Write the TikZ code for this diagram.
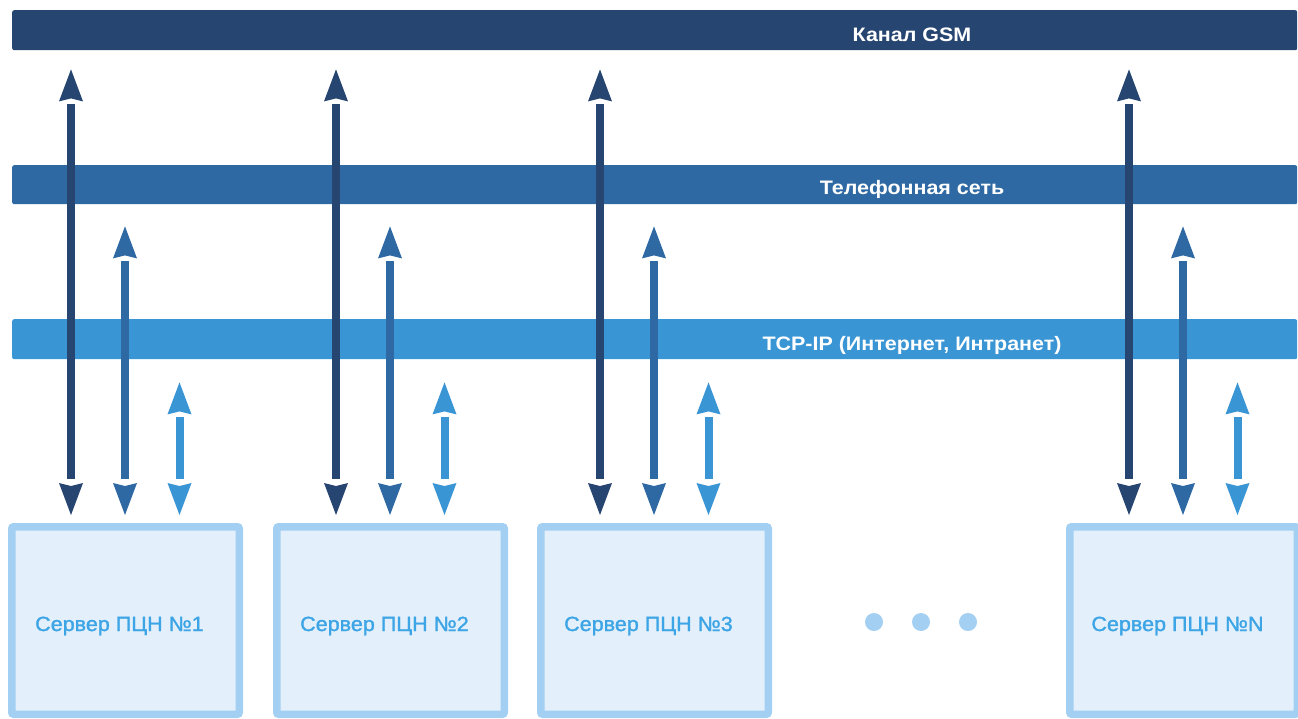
\documentclass[tikz,border=0pt]{standalone}
\usepackage{fontspec}
\setmainfont{Liberation Sans}
\newfontfamily\barfont[FakeStretch=1.1]{Liberation Sans}
\newfontfamily\srvfont[FakeStretch=1.05,FakeBold=1.5]{Liberation Sans}
\usetikzlibrary{arrows.meta,calc}

\definecolor{gsmblue}{HTML}{274571}
\definecolor{telblue}{HTML}{2F69A3}
\definecolor{tcpblue}{HTML}{3A95D5}
\definecolor{boxline}{HTML}{A3CFF2}
\definecolor{boxfill}{HTML}{E3F0FB}
\definecolor{srvtext}{HTML}{3DA5E5}

\begin{document}
\begin{tikzpicture}[x=1pt,y=-1pt,
  >={Stealth[length=32pt,width=24pt,inset=3pt,line width=0pt]},
  bar/.style={draw=none,fill=#1,rounded corners=2pt,minimum width=1285pt,
    minimum height=40pt,inner sep=0pt,anchor=north west},
  barlabel/.style={text=white,font=\barfont\bfseries\fontsize{19.5}{22}\selectfont,
    inner sep=0pt,anchor=base},
  server/.style={draw=boxline,fill=boxfill,line width=7.5pt,rounded corners=2pt,
    minimum width=227.5pt,minimum height=187.5pt,inner sep=0pt,anchor=north west},
  srvlabel/.style={text=srvtext,font=\srvfont\fontsize{20.5}{24}\selectfont,
    inner sep=0pt,anchor=base},
  % arrow heads only (the line itself is dashed away)
  heads/.style={line width=8pt,draw=#1,<->,dash pattern=on 0pt off 3000pt},
  % shaft, kept clear of the heads
  shaft/.style={line width=8pt,draw=#1},
  dot/.style={circle,fill=boxline,draw=none,minimum size=18pt,inner sep=0pt}]

\useasboundingbox (0,0) rectangle (1298,718);

% network bars
\node[bar=gsmblue] (gsm) at (12,10) {};
\node[bar=telblue,minimum height=39pt] (tel) at (12,165) {};
\node[bar=tcpblue] (tcp) at (12,319) {};

\coordinate (lblx) at (912,0);
\node[barlabel] (gsmlbl) at ($(gsm.south -| lblx)+(0,-9)$) {Канал GSM};
\node[barlabel] (tellbl) at ($(tel.south -| lblx)+(0,-9.5)$) {Телефонная сеть};
\node[barlabel] (tcplbl) at ($(tcp.south -| lblx)+(0,-8.5)$) {TCP-IP (Интернет, Интранет)};

% server boxes
\node[server] (s1) at (8,523) {};
\node[server] (s2) at (273,523) {};
\node[server] (s3) at (537,523) {};
\node[server] (sN) at (1066,523) {};

\foreach \s/\t in {s1/1,s2/2,s3/3,sN/N}{
  \node[srvlabel] (\s lbl) at ($(\s.center)+(-6,10.5)$) {Сервер ПЦН №\t};
}

% ellipsis between the third and the last server
\node[dot] (dotA) at (874,622) {};
\node[dot] (dotB) at (921,622) {};
\node[dot] (dotC) at (968,622) {};

% links from every network to every server
\foreach \s in {s1,s2,s3,sN}{
  \coordinate (\s d) at ($(\s.north west)+(63,0)$);
  \coordinate (\s m) at ($(\s.north west)+(117,0)$);
  \coordinate (\s l) at ($(\s.north west)+(171.5,0)$);
  \draw[shaft=gsmblue,shorten <=54pt,shorten >=44pt] (gsm.south -| \s d) -- (\s.north -| \s d);
  \draw[heads=gsmblue,shorten <=19pt,shorten >=8pt] (gsm.south -| \s d) -- (\s.north -| \s d);
  \draw[shaft=telblue,shorten <=57pt,shorten >=44pt] (tel.south -| \s m) -- (\s.north -| \s m);
  \draw[heads=telblue,shorten <=22pt,shorten >=8pt] (tel.south -| \s m) -- (\s.north -| \s m);
  \draw[shaft=tcpblue,shorten <=58pt,shorten >=44pt] (tcp.south -| \s l) -- (\s.north -| \s l);
  \draw[heads=tcpblue,shorten <=23pt,shorten >=8pt] (tcp.south -| \s l) -- (\s.north -| \s l);
}
\end{tikzpicture}
\end{document}
